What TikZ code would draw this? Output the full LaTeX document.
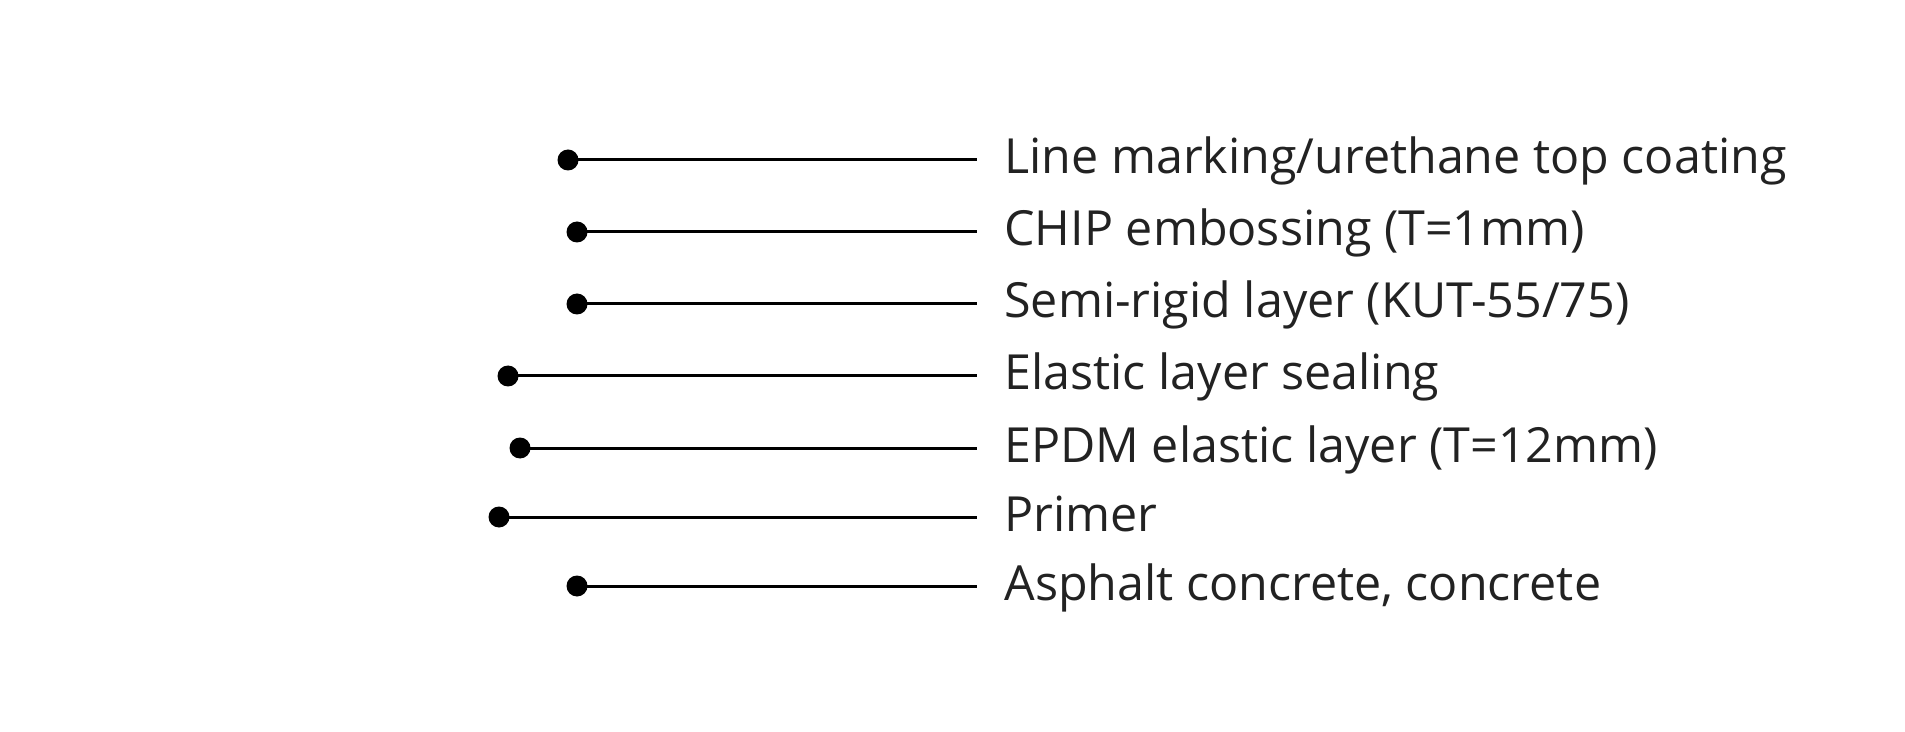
\documentclass[tikz,border=0pt]{standalone}
\usepackage{fontspec}
\setmainfont{Open Sans}
\definecolor{txt}{HTML}{222222}
\begin{document}
\begin{tikzpicture}[x=0.5pt,y=-0.5pt,
  dotnode/.style={circle,fill=black,inner sep=0pt,minimum size=10.5pt},
  leader/.style={draw=black,line width=1.5pt},
  lbl/.style={anchor=base west,inner sep=0pt,text=txt,font=\fontsize{24.2pt}{29pt}\selectfont}]
\useasboundingbox (0,0) rectangle (1905,732);
\foreach \i/\dx/\yy/\t in {1/568/160/{Line marking/urethane top coating},
                          2/577/232/{CHIP embossing (T=1mm)},
                          3/577/304/{Semi-rigid layer (KUT-55/75)},
                          4/508/376/{Elastic layer sealing},
                          5/520/448/{EPDM elastic layer (T=12mm)},
                          6/499/517/{Primer},
                          7/577/586/{Asphalt concrete, concrete}} {
  \node[dotnode] (d\i) at (\dx,\yy) {};
  \coordinate (e\i) at (977,\yy);
  \node[lbl] (t\i) at (1004,\yy+14) {\t};
  \draw[leader] (d\i.center) -- (e\i);
}
\end{tikzpicture}
\end{document}
